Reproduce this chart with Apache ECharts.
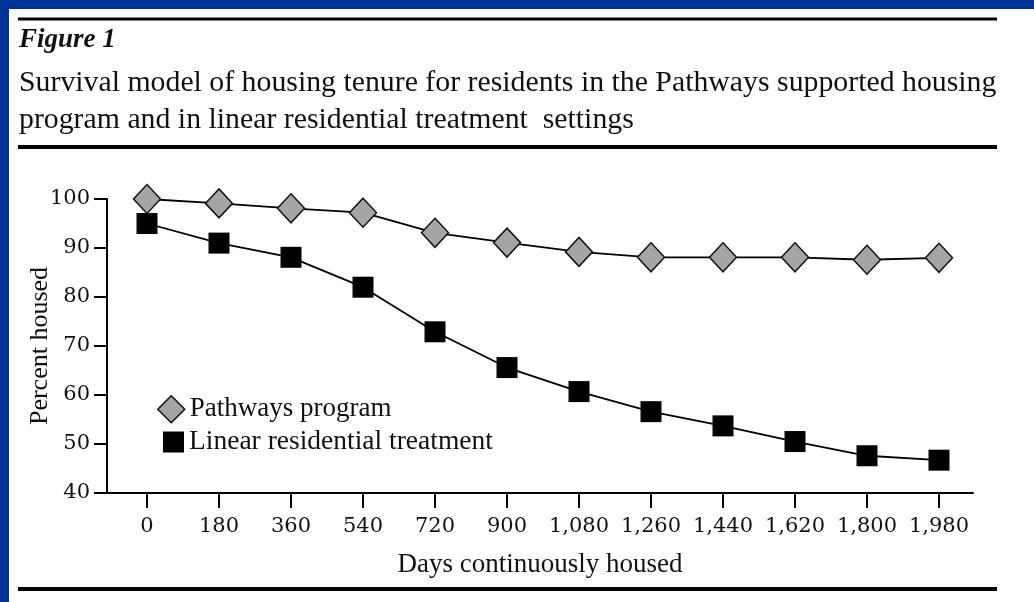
<html><head>
<meta charset="UTF-8">
<title>Figure 1 - Survival model of housing tenure</title>
<style>
  body {
    margin: 0;
    background-color: #00339a;
  }
  .panel {
    position: absolute;
    left: 9px;
    top: 9px;
    width: 1025px;
    height: 593px;
    background-color: #fff;
  }
  #chart {
    position: absolute;
    left: 0;
    top: 0;
    width: 1034px;
    height: 602px;
  }
</style>
</head>
<body>
  <div class="panel"></div>
  <div id="chart"></div>

  <script src="https://cdn.jsdelivr.net/npm/echarts@6/dist/echarts.min.js"></script>
  <script>
    // data
    const days = [0, 180, 360, 540, 720, 900, 1080, 1260, 1440, 1620, 1800, 1980];
    const pathways = [100, 99.1, 98.1, 97.2, 93.1, 91.1, 89.2, 88.1, 88.1, 88.1, 87.6, 88];
    const linear = [95, 91, 88.1, 82, 72.9, 65.6, 60.7, 56.6, 53.7, 50.5, 47.6, 46.7];
    const yTicks = [40, 50, 60, 70, 80, 90, 100];

    const serif = 'Liberation Serif';
    const numFont = 'DejaVu Serif';

    const chart = echarts.init(document.getElementById('chart'));

    // horizontal rules of the figure frame
    const rule = (y, w) => ({
      type: 'line',
      shape: {x1: 18, y1: y, x2: 997, y2: y},
      style: {stroke: '#000', lineWidth: w}
    });

    const option = {
      animation: false,
      title: [
        {
          text: 'Figure 1',
          left: 19,
          top: 27,
          padding: 0,
          textStyle: {fontFamily: serif, fontSize: 27, fontWeight: 'bold', fontStyle: 'italic', color: '#111'}
        },
        {
          text: 'Survival model of housing tenure for residents in the Pathways supported housing\nprogram and in linear residential treatment  settings',
          left: 19,
          top: 65,
          padding: 0,
          textStyle: {fontFamily: serif, fontSize: 29.8, fontWeight: 'normal', lineHeight: 37, color: '#111'}
        }
      ],
      graphic: [rule(19, 3), rule(147, 4), rule(589, 4)],
      legend: [
        {
          data: ['Pathways program'],
          icon: 'diamond',
          orient: 'vertical',
          left: 157,
          top: 395,
          padding: 0,
          itemWidth: 27,
          itemHeight: 27,
          selectedMode: false,
          itemStyle: {color: '#a5a5a5', borderColor: '#111', borderWidth: 1.5},
          textStyle: {fontFamily: serif, fontSize: 27, color: '#111', lineHeight: 27}
        },
        {
          data: ['Linear residential treatment'],
          icon: 'rect',
          orient: 'vertical',
          left: 163,
          top: 428,
          padding: 0,
          itemWidth: 21,
          itemHeight: 21,
          selectedMode: false,
          itemStyle: {color: '#000', borderWidth: 0},
          textStyle: {fontFamily: serif, fontSize: 27.5, color: '#111', lineHeight: 27}
        }
      ],
      grid: {
        left: 107,
        right: 61,
        top: 199,
        bottom: 109
      },
      xAxis: {
        type: 'value',
        min: -100,
        max: 2065,
        name: 'Days continuously housed',
        nameLocation: 'middle',
        nameGap: 58,
        nameTextStyle: {fontFamily: serif, fontSize: 27, color: '#111'},
        axisLine: {onZero: false, lineStyle: {color: '#000', width: 2}},
        axisTick: {customValues: days, length: 15, lineStyle: {color: '#000', width: 2}},
        axisLabel: {
          customValues: days,
          margin: 23,
          fontFamily: numFont,
          fontSize: 21,
          color: '#111',
          formatter: v => v.toLocaleString('en-US')
        },
        splitLine: {show: false}
      },
      yAxis: {
        type: 'value',
        min: 40,
        max: 100,
        interval: 10,
        name: 'Percent housed',
        nameLocation: 'middle',
        nameGap: 54,
        nameMoveOverlap: false,
        nameRotate: 90,
        nameTextStyle: {fontFamily: serif, fontSize: 26, color: '#111'},
        axisLine: {show: true, onZero: false, lineStyle: {color: '#000', width: 2}},
        axisTick: {show: true, length: 13, lineStyle: {color: '#000', width: 2}},
        axisLabel: {
          customValues: yTicks,
          margin: 17,
          fontFamily: numFont,
          fontSize: 21,
          color: '#111'
        },
        splitLine: {show: false}
      },
      series: [
        {
          name: 'Pathways program',
          type: 'line',
          data: days.map((d, i) => [d, pathways[i]]),
          symbol: 'diamond',
          symbolSize: [27, 29],
          lineStyle: {color: '#000', width: 1.8},
          itemStyle: {color: '#a5a5a5', borderColor: '#111', borderWidth: 1.5},
          z: 3
        },
        {
          name: 'Linear residential treatment',
          type: 'line',
          data: days.map((d, i) => [d, linear[i]]),
          symbol: 'rect',
          symbolSize: 21,
          lineStyle: {color: '#000', width: 1.8},
          itemStyle: {color: '#000', borderWidth: 0},
          z: 2
        }
      ]
    };

    chart.setOption(option);
  </script>
</body>
</html>
